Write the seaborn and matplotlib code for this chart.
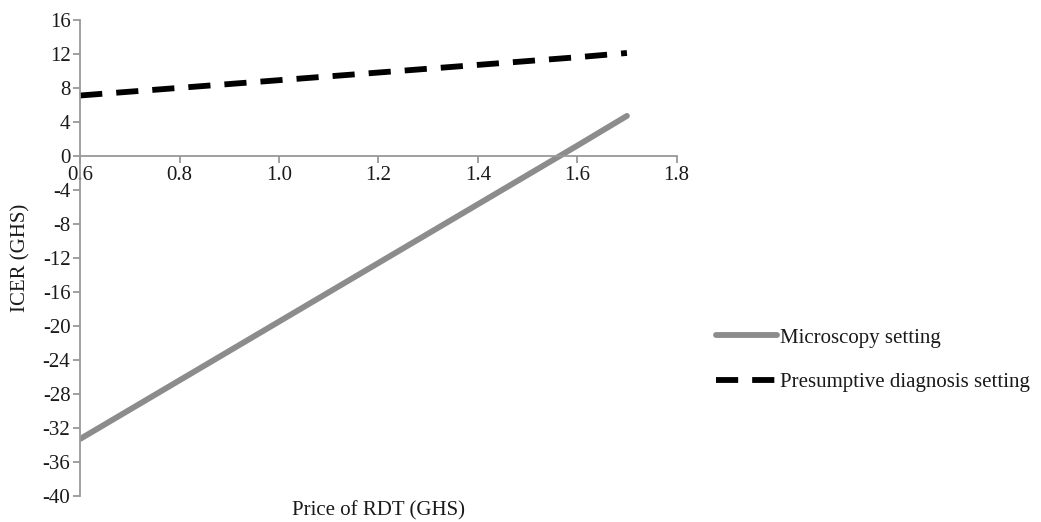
import seaborn as sns
import matplotlib.pyplot as plt
import pandas as pd

sns.set_style("white")
plt.rcParams['font.family'] = ['Liberation Serif', 'DejaVu Serif']
plt.rcParams['axes.unicode_minus'] = False

# values
price = [0.6, 0.8, 1.0, 1.2, 1.4, 1.6, 1.7]
micro = [-33.3, -26.4, -19.5, -12.6, -5.7, 1.2, 4.7]
presump = [7.1, 8.0, 8.9, 9.8, 10.7, 11.6, 12.1]
series = ["Microscopy setting", "Presumptive diagnosis setting"]

data = pd.DataFrame({
    "price": price * 2,
    "icer": micro + presump,
    "setting": [series[0]] * len(price) + [series[1]] * len(price),
})

fig = plt.figure(figsize=(10.41, 5.22), dpi=100)
ax = fig.add_axes([0.077, 0.05, 0.573, 0.912])

sns.lineplot(data=data, x="price", y="icer", hue="setting", style="setting",
             palette={series[0]: "#8c8c8c", series[1]: "black"},
             dashes={series[0]: "", series[1]: (3.8, 2.4)},
             linewidth=4.2, ax=ax)

ax.set_xlim(0.6, 1.8)
ax.set_ylim(-40, 16)
ax.set_xticks([0.6, 0.8, 1.0, 1.2, 1.4, 1.6, 1.8])
ax.set_xticklabels(["0.6", "0.8", "1.0", "1.2", "1.4", "1.6", "1.8"])
ax.set_yticks(range(-40, 17, 4))

# axis crossing at zero, like the spreadsheet original
ax.spines["bottom"].set_position(("data", 0))
ax.spines["top"].set_visible(False)
ax.spines["right"].set_visible(False)
for s in ["left", "bottom"]:
    ax.spines[s].set_color("#999999")
    ax.spines[s].set_linewidth(1.3)
ax.tick_params(axis="both", which="major", direction="out", length=5, width=1.3,
               color="#999999", labelsize=15, labelcolor="#1a1a1a",
               bottom=True, left=True, pad=2)

ax.set_xlabel("Price of RDT (GHS)", fontsize=15, color="#1a1a1a", va="top")
ax.xaxis.set_label_coords(0.5, -0.01)
ax.set_ylabel("ICER (GHS)", fontsize=15, color="#1a1a1a", labelpad=9)

leg = ax.legend(loc="center left", bbox_to_anchor=(1.035, 0.285), frameon=False,
                fontsize=15, handlelength=2.9, handletextpad=0.15, labelspacing=1.2)
for t in leg.get_texts():
    t.set_color("#1a1a1a")

fig.savefig("out.png", dpi=100)
